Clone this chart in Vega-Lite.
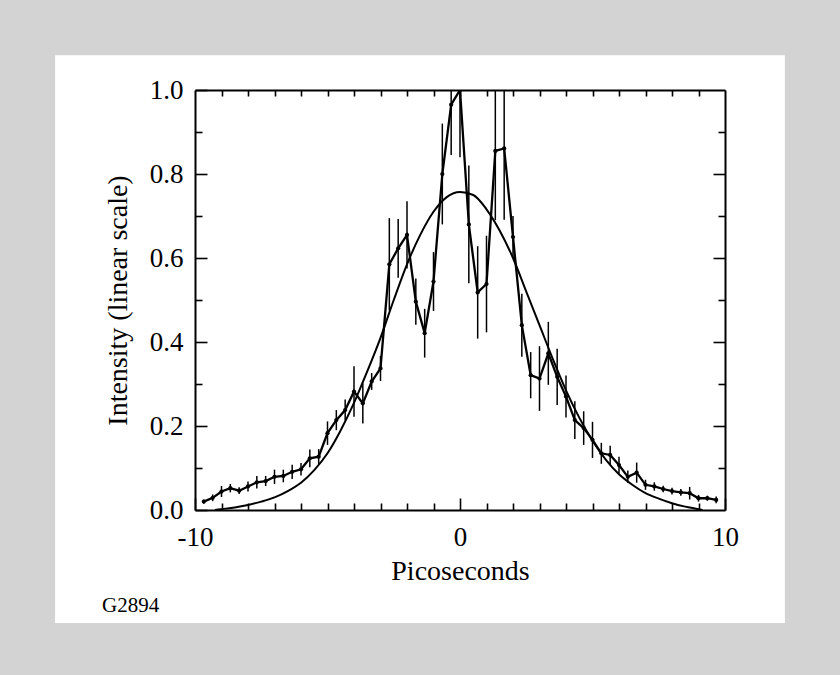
{
  "$schema": "https://vega.github.io/schema/vega-lite/v6.json",
  "width": 530,
  "height": 420,
  "autosize": {"type": "none"},
  "padding": {"left": 195, "top": 90, "right": 115, "bottom": 165},
  "background": "#d3d3d3",
  "config": {
    "view": {"stroke": null, "fill": null},
    "font": "Liberation Serif",
    "axis": {
      "domainColor": "black", "domainWidth": 2, "grid": false,
      "tickColor": "black", "tickWidth": 1.6,
      "labelColor": "black", "titleColor": "black",
      "labelFont": "Liberation Serif", "titleFont": "Liberation Serif",
      "labelFontSize": 27, "titleFontSize": 28, "titleFontWeight": "normal",
      "labelFlush": false
    }
  },
  "datasets": {
    "meas": [
      {"x": -9.667, "y": 0.02, "lo": 0.015, "hi": 0.025},
      {"x": -9.333, "y": 0.029, "lo": 0.021, "hi": 0.037},
      {"x": -9.0, "y": 0.044, "lo": 0.031, "hi": 0.057},
      {"x": -8.667, "y": 0.052, "lo": 0.042, "hi": 0.062},
      {"x": -8.333, "y": 0.046, "lo": 0.038, "hi": 0.054},
      {"x": -8.0, "y": 0.056, "lo": 0.044, "hi": 0.068},
      {"x": -7.667, "y": 0.066, "lo": 0.051, "hi": 0.081},
      {"x": -7.333, "y": 0.069, "lo": 0.057, "hi": 0.081},
      {"x": -7.0, "y": 0.079, "lo": 0.062, "hi": 0.096},
      {"x": -6.667, "y": 0.081, "lo": 0.066, "hi": 0.096},
      {"x": -6.333, "y": 0.091, "lo": 0.074, "hi": 0.108},
      {"x": -6.0, "y": 0.097, "lo": 0.082, "hi": 0.112},
      {"x": -5.667, "y": 0.123, "lo": 0.102, "hi": 0.144},
      {"x": -5.333, "y": 0.127, "lo": 0.109, "hi": 0.145},
      {"x": -5.0, "y": 0.183, "lo": 0.155, "hi": 0.211},
      {"x": -4.667, "y": 0.214, "lo": 0.19, "hi": 0.238},
      {"x": -4.333, "y": 0.238, "lo": 0.213, "hi": 0.263},
      {"x": -4.0, "y": 0.282, "lo": 0.222, "hi": 0.342},
      {"x": -3.667, "y": 0.254, "lo": 0.206, "hi": 0.302},
      {"x": -3.333, "y": 0.306, "lo": 0.286, "hi": 0.326},
      {"x": -3.0, "y": 0.337, "lo": 0.307, "hi": 0.367},
      {"x": -2.667, "y": 0.585, "lo": 0.475, "hi": 0.695},
      {"x": -2.333, "y": 0.623, "lo": 0.553, "hi": 0.693},
      {"x": -2.0, "y": 0.655, "lo": 0.575, "hi": 0.735},
      {"x": -1.667, "y": 0.496, "lo": 0.441, "hi": 0.551},
      {"x": -1.333, "y": 0.421, "lo": 0.363, "hi": 0.479},
      {"x": -1.0, "y": 0.544, "lo": 0.474, "hi": 0.614},
      {"x": -0.667, "y": 0.8, "lo": 0.68, "hi": 0.92},
      {"x": -0.333, "y": 0.965, "lo": 0.845, "hi": 1.085},
      {"x": 0.0, "y": 1.0, "lo": 0.84, "hi": 1.16},
      {"x": 0.333, "y": 0.68, "lo": 0.54, "hi": 0.82},
      {"x": 0.667, "y": 0.518, "lo": 0.408, "hi": 0.628},
      {"x": 1.0, "y": 0.538, "lo": 0.423, "hi": 0.653},
      {"x": 1.333, "y": 0.855, "lo": 0.69, "hi": 1.02},
      {"x": 1.667, "y": 0.861, "lo": 0.691, "hi": 1.031},
      {"x": 2.0, "y": 0.65, "lo": 0.6, "hi": 0.7},
      {"x": 2.333, "y": 0.44, "lo": 0.365, "hi": 0.515},
      {"x": 2.667, "y": 0.321, "lo": 0.266, "hi": 0.376},
      {"x": 3.0, "y": 0.313, "lo": 0.236, "hi": 0.39},
      {"x": 3.333, "y": 0.373, "lo": 0.298, "hi": 0.448},
      {"x": 3.667, "y": 0.317, "lo": 0.25, "hi": 0.384},
      {"x": 4.0, "y": 0.27, "lo": 0.22, "hi": 0.32},
      {"x": 4.333, "y": 0.214, "lo": 0.169, "hi": 0.259},
      {"x": 4.667, "y": 0.195, "lo": 0.155, "hi": 0.235},
      {"x": 5.0, "y": 0.167, "lo": 0.124, "hi": 0.21},
      {"x": 5.333, "y": 0.135, "lo": 0.11, "hi": 0.16},
      {"x": 5.667, "y": 0.131, "lo": 0.109, "hi": 0.153},
      {"x": 6.0, "y": 0.107, "lo": 0.087, "hi": 0.127},
      {"x": 6.333, "y": 0.079, "lo": 0.064, "hi": 0.094},
      {"x": 6.667, "y": 0.089, "lo": 0.065, "hi": 0.113},
      {"x": 7.0, "y": 0.06, "lo": 0.048, "hi": 0.072},
      {"x": 7.333, "y": 0.056, "lo": 0.046, "hi": 0.066},
      {"x": 7.667, "y": 0.05, "lo": 0.042, "hi": 0.058},
      {"x": 8.0, "y": 0.045, "lo": 0.037, "hi": 0.053},
      {"x": 8.333, "y": 0.042, "lo": 0.034, "hi": 0.05},
      {"x": 8.667, "y": 0.04, "lo": 0.025, "hi": 0.055},
      {"x": 9.0, "y": 0.028, "lo": 0.02, "hi": 0.036},
      {"x": 9.333, "y": 0.028, "lo": 0.022, "hi": 0.034},
      {"x": 9.667, "y": 0.024, "lo": 0.016, "hi": 0.032}
    ],
    "fit": [
      {"t": -9.25, "f": 0.0}, {"t": -9.0, "f": 0.002}, {"t": -8.5, "f": 0.006},
      {"t": -8.0, "f": 0.012}, {"t": -7.5, "f": 0.02}, {"t": -7.0, "f": 0.03},
      {"t": -6.5, "f": 0.045}, {"t": -6.0, "f": 0.065}, {"t": -5.5, "f": 0.095},
      {"t": -5.0, "f": 0.135}, {"t": -4.5, "f": 0.19}, {"t": -4.0, "f": 0.255},
      {"t": -3.5, "f": 0.33}, {"t": -3.0, "f": 0.41}, {"t": -2.5, "f": 0.5},
      {"t": -2.0, "f": 0.585}, {"t": -1.5, "f": 0.655}, {"t": -1.0, "f": 0.71},
      {"t": -0.5, "f": 0.745}, {"t": 0.0, "f": 0.757}, {"t": 0.5, "f": 0.75},
      {"t": 1.0, "f": 0.716}, {"t": 1.5, "f": 0.665}, {"t": 2.0, "f": 0.6},
      {"t": 2.5, "f": 0.52}, {"t": 3.0, "f": 0.44}, {"t": 3.5, "f": 0.36},
      {"t": 4.0, "f": 0.285}, {"t": 4.5, "f": 0.22}, {"t": 5.0, "f": 0.165},
      {"t": 5.5, "f": 0.12}, {"t": 6.0, "f": 0.085}, {"t": 6.5, "f": 0.06},
      {"t": 7.0, "f": 0.04}, {"t": 7.5, "f": 0.027}, {"t": 8.0, "f": 0.016},
      {"t": 8.5, "f": 0.008}, {"t": 9.0, "f": 0.002}, {"t": 9.15, "f": 0.0}
    ]
  },
  "resolve": {"axis": {"x": "independent", "y": "independent"}},
  "layer": [
    {
      "data": {"values": [{}]},
      "mark": {"type": "rect", "fill": "white", "stroke": null},
      "encoding": {
        "x": {"datum": -15.28, "type": "quantitative", "scale": {"domain": [-10, 10], "nice": false, "zero": false}, "axis": null},
        "x2": {"datum": 12.26},
        "y": {"datum": 1.083, "type": "quantitative", "scale": {"domain": [0, 1], "nice": false, "zero": false}, "axis": null},
        "y2": {"datum": -0.269}
      }
    },
    {
      "data": {"values": [{}]},
      "mark": {"type": "text", "text": "G2894", "align": "left", "baseline": "alphabetic", "fontSize": 21, "font": "Liberation Serif", "color": "black"},
      "encoding": {
        "x": {"datum": -13.51, "type": "quantitative", "axis": null},
        "y": {"datum": -0.243, "type": "quantitative", "axis": null}
      }
    },
    {
      "data": {"name": "meas"},
      "mark": {"type": "rule", "color": "black", "strokeWidth": 1.5, "clip": true},
      "encoding": {
        "x": {"field": "x", "type": "quantitative",
              "axis": {"orient": "bottom", "zindex": 2, "values": [-10, 0, 10], "labelExpr": "replace(datum.label, '\u2212', '-')", "tickSize": -12, "labelPadding": 26, "domain": true, "title": "Picoseconds", "titlePadding": 7}},
        "y": {"field": "lo", "type": "quantitative",
              "axis": {"orient": "left", "zindex": 2, "values": [0, 0.2, 0.4, 0.6, 0.8, 1.0], "format": ".1f", "tickSize": -12, "labelPadding": 24, "domain": true, "title": "Intensity (linear scale)", "titlePadding": 17}},
        "y2": {"field": "hi"}
      }
    },
    {
      "data": {"name": "meas"},
      "mark": {"type": "line", "color": "black", "strokeWidth": 2.3, "clip": true},
      "encoding": {
        "x": {"field": "x", "type": "quantitative",
              "axis": {"orient": "bottom", "zindex": 2, "values": [-9, -8, -7, -6, -5, -4, -3, -2, -1, 1, 2, 3, 4, 5, 6, 7, 8, 9], "tickSize": -7, "labels": false, "domain": false, "title": null}},
        "y": {"field": "y", "type": "quantitative",
              "axis": {"orient": "left", "zindex": 2, "values": [0.1, 0.3, 0.5, 0.7, 0.9], "tickSize": -7, "labels": false, "domain": false, "title": null}}
      }
    },
    {
      "data": {"name": "meas"},
      "mark": {"type": "point", "filled": true, "color": "black", "size": 18, "opacity": 1, "clip": true},
      "encoding": {
        "x": {"field": "x", "type": "quantitative",
              "axis": {"orient": "top", "zindex": 2, "values": [-9, -8, -7, -6, -5, -4, -3, -2, -1, 0, 1, 2, 3, 4, 5, 6, 7, 8, 9], "tickSize": -6, "labels": false, "domain": true, "title": null}},
        "y": {"field": "y", "type": "quantitative",
              "axis": {"orient": "right", "zindex": 2, "values": [0.2, 0.4, 0.6, 0.8], "tickSize": -12, "labels": false, "domain": true, "title": null}}
      }
    },
    {
      "data": {"name": "fit"},
      "mark": {"type": "line", "color": "black", "strokeWidth": 2, "interpolate": "monotone"},
      "encoding": {
        "x": {"field": "t", "type": "quantitative", "axis": null},
        "y": {"field": "f", "type": "quantitative",
              "axis": {"orient": "right", "zindex": 2, "values": [0.1, 0.3, 0.5, 0.7, 0.9], "tickSize": -7, "labels": false, "domain": false, "title": null}}
      }
    }
  ]
}
